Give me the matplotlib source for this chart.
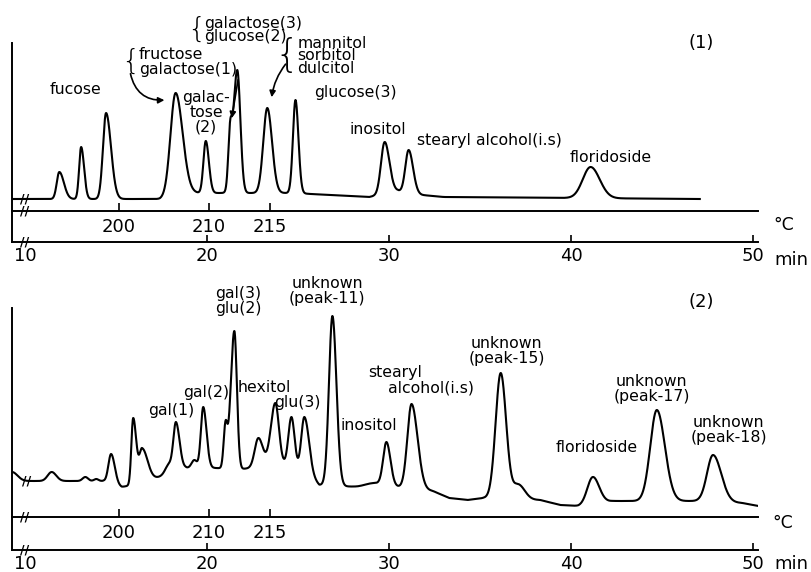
import numpy as np
import matplotlib
matplotlib.use("Agg")
import matplotlib.pyplot as plt

# ------------------------------------------------------------------ data
# time axis (min) and temperature program ticks
time_ticks = [10, 20, 30, 40, 50]
time_labels = ["10", "20", "30", "40", "50"]
temp_tick_times = [15.15, 20.1, 23.45]
temp_labels = ["200", "210", "215"]

# Chromatogram (1): peak retention time (min), apex height, left/right widths (min)
p1_time = [11.87, 13.07, 14.44, 18.26, 19.92, 21.25, 21.65, 23.30, 24.85, 29.75, 31.07, 41.07]
p1_top = [27, 52, 86, 106, 58, 77, 129, 91, 99, 57, 49, 32]
p1_sig_l = [0.14, 0.11, 0.17, 0.28, 0.13, 0.10, 0.22, 0.22, 0.14, 0.20, 0.18, 0.43]
p1_sig_r = [0.25, 0.16, 0.27, 0.38, 0.17, 0.10, 0.17, 0.26, 0.16, 0.26, 0.24, 0.50]
p1_base_time = [9.27, 17.4, 18.9, 24.9, 25.7, 28.9, 30.46, 31.8, 33.0, 47.07]
p1_base_level = [0, 0, 6, 6, 5, 2, 8, 4, 2, 0]
p1_span = [9.27, 47.07]

# Chromatogram (2)
p2_time = [9.27, 11.45, 13.30, 13.90, 14.72, 15.93, 16.42, 17.90, 18.28, 19.29, 19.78,
           21.00, 21.49, 22.81, 23.74, 24.63, 25.34, 26.88, 29.19, 29.85, 31.23, 36.13,
           37.10, 41.19, 44.71, 47.80]
p2_top = [9, 9, 4, 2, 27, 63, 33, 18, 59, 21, 74, 60, 150, 43, 78, 64, 64, 165, -2, 39,
          77, 108, -3, 4, 71, 26]
p2_sig_l = [0.30, 0.22, 0.15, 0.12, 0.15, 0.10, 0.15, 0.20, 0.14, 0.15, 0.13, 0.10, 0.20,
            0.20, 0.25, 0.17, 0.17, 0.19, 0.50, 0.18, 0.23, 0.28, 0.30, 0.30, 0.36, 0.33]
p2_sig_r = [0.30, 0.25, 0.15, 0.12, 0.20, 0.17, 0.30, 0.20, 0.20, 0.15, 0.18, 0.10, 0.14,
            0.25, 0.20, 0.17, 0.25, 0.22, 0.50, 0.22, 0.33, 0.30, 0.35, 0.35, 0.44, 0.45]
p2_base_time = [9.27, 14.3, 15.3, 16.2, 17.2, 18.0, 18.8, 20.4, 21.9, 23.0, 24.2, 25.5,
                26.16, 28.26, 30.51, 32.4, 33.3, 34.3, 35.2, 38.3, 39.4, 40.4, 42.3, 47.0,
                49.4, 50.3]
p2_base_level = [0, 0, -6, -3, 3, 8, 13, 13, 12, 14, 16, 8, -4, -6, -6, -10, -17, -19,
                 -17, -19, -24, -25, -20, -20, -22, -25]
p2_span = [9.27, 50.3]

# peak labels: (text, time, height, ha, linespacing)
p1_labels = [
    ("fucose", 12.74, 109, "center", 1.0),
    ("fructose\ngalactose(1)", 16.25, 137, "left", 1.0),
    ("galac-\ntose\n(2)", 19.93, 87, "center", 1.0),
    ("galactose(3)\nglucose(2)", 19.85, 169, "left", 0.88),
    ("mannitol\nsorbitol\ndulcitol", 24.95, 143, "left", 0.82),
    ("glucose(3)", 28.14, 106, "center", 1.0),
    ("inositol", 29.4, 70, "center", 1.0),
    ("stearyl alcohol(i.s)", 35.5, 59, "center", 1.0),
    ("floridoside", 42.17, 42, "center", 1.0),
]
# braces grouping the co-eluting sugars: (time, height, fontsize)
p1_braces = [(16.3, 137, 21), (19.9, 169, 21), (25.05, 143, 28)]

p2_labels = [
    ("gal(1)", 18.02, 70, "center", 1.0),
    ("gal(2)", 19.94, 89, "center", 1.0),
    ("gal(3)\nglu(2)", 21.7, 180, "center", 1.0),
    ("hexitol", 23.13, 93, "center", 1.0),
    ("glu(3)", 24.95, 78, "center", 1.0),
    ("unknown\n(peak-11)", 26.6, 190, "center", 1.0),
    ("inositol", 28.9, 56, "center", 1.0),
    ("stearyl", 30.33, 108, "center", 1.0),
    ("alcohol(i.s)", 32.3, 93, "center", 1.0),
    ("unknown\n(peak-15)", 36.45, 129.5, "center", 1.0),
    ("floridoside", 41.41, 34, "center", 1.0),
    ("unknown\n(peak-17)", 44.43, 91.5, "center", 1.0),
    ("unknown\n(peak-18)", 48.67, 51, "center", 1.0),
]

# ------------------------------------------------------------------ helpers
FONT = "DejaVu Sans"
plt.rcParams["font.family"] = [FONT]
LW = 1.5


def peak_shape(t, center, sl, sr):
    d = t - center
    s = np.where(d < 0, sl, sr)
    return np.exp(-0.5 * (d / s) ** 2)


def build_trace(t, times, tops, sl, sr, bt, bl):
    times = np.asarray(times, float)
    tops = np.asarray(tops, float)
    n = len(times)
    A = np.zeros((n, n))
    for j in range(n):
        A[:, j] = peak_shape(times, times[j], sl[j], sr[j])
    amp = np.linalg.solve(A, tops - np.interp(times, bt, bl))
    y = np.interp(t, bt, bl)
    for j in range(n):
        y = y + amp[j] * peak_shape(t, times[j], sl[j], sr[j])
    return y


def setup_axes(ax, ylim, temp_loc):
    ax.set_xlim(9.27, 50.27)
    ax.set_ylim(*ylim)
    for s in ("top", "right"):
        ax.spines[s].set_visible(False)
    ax.spines["left"].set_linewidth(1.4)
    ax.spines["bottom"].set_linewidth(1.4)
    ax.set_yticks([])
    ax.set_xticks(time_ticks, labels=time_labels)
    ax.tick_params(axis="x", direction="in", length=5, width=1.2, labelsize=13, pad=3.5)
    ax.xaxis.get_major_ticks()[0].tick1line.set_visible(False)
    sec = ax.secondary_xaxis(temp_loc, functions=(lambda x: x, lambda x: x))
    sec.set_xticks(temp_tick_times, labels=temp_labels)
    sec.tick_params(direction="in", length=6, width=1.2, labelsize=13, pad=5)
    sec.spines["bottom"].set_linewidth(1.4)
    # axis-break marks
    for yy in (0.0, temp_loc):
        ax.text(9.98, yy, "//", transform=ax.get_xaxis_transform(), ha="center",
                va="center", fontsize=9, fontweight="bold")


fig = plt.figure(figsize=(8.12, 5.72), dpi=100)

arrow_kw = dict(arrowstyle="-|>", color="black", lw=1.2, mutation_scale=9)

# ------------------------------------------------------------------ panel 1
ax1 = fig.add_axes([12 / 812, 1 - 242 / 572, 746 / 812, 199 / 572])
setup_axes(ax1, (-43, 156), 0.156)
t1 = np.linspace(p1_span[0], p1_span[1], 4000)
y1 = build_trace(t1, p1_time, p1_top, p1_sig_l, p1_sig_r, p1_base_time, p1_base_level)
ax1.plot(t1, y1, color="black", lw=LW, solid_joinstyle="round")
ax1.text(9.98, 0, "//", ha="center", va="center", fontsize=9, fontweight="bold")
for txt, tx, ty, ha, ls in p1_labels:
    ax1.text(tx, ty, txt, ha=ha, va="center", fontsize=11.3, linespacing=ls)
for bx, by, bs in p1_braces:
    ax1.text(bx, by, "{", ha="right", va="center", fontsize=bs, fontweight="light")
ax1.annotate("", xy=(17.8, 99), xytext=(15.75, 128),
             arrowprops=dict(connectionstyle="arc3,rad=0.45", **arrow_kw))
ax1.annotate("", xy=(21.32, 78), xytext=(21.72, 122),
             arrowprops=dict(connectionstyle="arc3,rad=0", **arrow_kw))
ax1.annotate("", xy=(23.52, 99), xytext=(24.4, 137),
             arrowprops=dict(connectionstyle="arc3,rad=0.15", **arrow_kw))
ax1.text(47.17, 156, "(1)", ha="center", va="center", fontsize=13)
ax1.text(51.7, -26, "°C", ha="center", va="center", fontsize=12.5)
ax1.text(52.1, -66, "min", ha="center", va="baseline", fontsize=13)

# ------------------------------------------------------------------ panel 2
ax2 = fig.add_axes([12 / 812, 1 - 550 / 572, 746 / 812, 242 / 572])
setup_axes(ax2, (-69, 173), 0.136)
t2 = np.linspace(p2_span[0], p2_span[1], 4000)
y2 = build_trace(t2, p2_time, p2_top, p2_sig_l, p2_sig_r, p2_base_time, p2_base_level)
ax2.plot(t2, y2, color="black", lw=LW, solid_joinstyle="round")
ax2.text(10.1, 0, "//", ha="center", va="center", fontsize=9, fontweight="bold")
for txt, tx, ty, ha, ls in p2_labels:
    ax2.text(tx, ty, txt, ha=ha, va="center", fontsize=11.3, linespacing=ls)
ax2.text(47.17, 179, "(2)", ha="center", va="center", fontsize=13)
ax2.text(51.65, -42, "°C", ha="center", va="center", fontsize=12.5)
ax2.text(52.1, -88, "min", ha="center", va="baseline", fontsize=13)

fig.savefig("out.png", dpi=100)
